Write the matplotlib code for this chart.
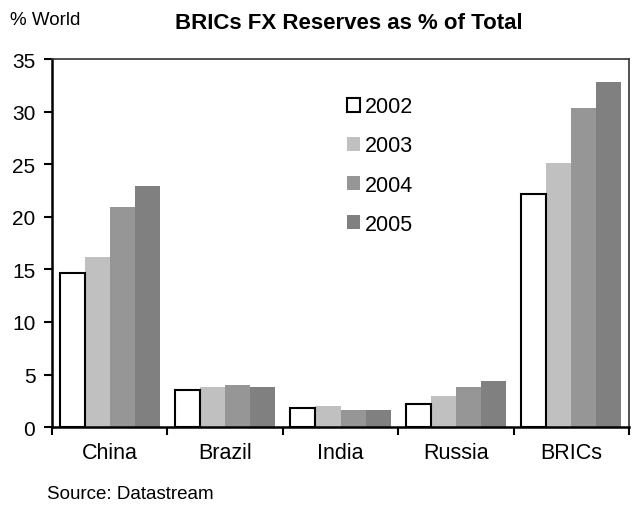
import matplotlib
matplotlib.use("Agg")
import matplotlib.pyplot as plt
import numpy as np

plt.rcParams['font.family'] = ['Liberation Sans', 'DejaVu Sans']

categories = ["China", "Brazil", "India", "Russia", "BRICs"]
years = ["2002", "2003", "2004", "2005"]
v2002 = [14.65, 3.5, 1.85, 2.2, 22.2]
v2003 = [16.2, 3.8, 2.0, 2.95, 25.1]
v2004 = [20.9, 4.0, 1.6, 3.8, 30.35]
v2005 = [22.9, 3.8, 1.6, 4.4, 32.8]
series = [v2002, v2003, v2004, v2005]
colors = ["white", "#C0C0C0", "#969696", "#808080"]
yticks = [0, 5, 10, 15, 20, 25, 30, 35]

fig = plt.figure(figsize=(6.4, 5.06), dpi=100)
ax = fig.add_axes([0.08125, 0.154, 0.9016, 0.727])

x = np.arange(len(categories))
w = 0.217
offsets = (np.arange(4) - 1.5) * w
for i, (vals, c) in enumerate(zip(series, colors)):
    if i == 0:
        ax.bar(x + offsets[i], vals, w, color=c, edgecolor="black", linewidth=1.5,
               label=years[i], zorder=3)
    else:
        ax.bar(x + offsets[i], vals, w, color=c, edgecolor="none", label=years[i], zorder=2)

ax.set_xlim(-0.5, len(categories) - 0.5)
ax.set_ylim(0, 35)
ax.set_yticks(yticks)
ax.set_yticklabels([str(t) for t in yticks], fontsize=15)
ax.set_xticks(np.arange(len(categories) + 1) - 0.5)
ax.set_xticklabels([])
ax.set_xticks(x, minor=True)
ax.set_xticklabels(categories, minor=True, fontsize=15.5)
ax.tick_params(axis='x', which='minor', length=0, pad=11)
ax.tick_params(axis='x', which='major', direction='out', length=6, width=1.5)
ax.tick_params(axis='y', direction='out', length=6, width=1.5, pad=6)

for s in ['left', 'bottom']:
    ax.spines[s].set_linewidth(1.8)
for s in ['top', 'right']:
    ax.spines[s].set_linewidth(1.2)
    ax.spines[s].set_color("#333333")

leg = ax.legend(loc='upper left', bbox_to_anchor=(0.511, 0.899), frameon=False,
                fontsize=15.5, handlelength=0.6, handleheight=0.6, handletextpad=0.25,
                labelspacing=0.84, borderpad=0, borderaxespad=0)

fig.text(0.015, 0.959, "% World", fontsize=13.5, ha='left', va='center')
fig.text(0.545, 0.954, "BRICs FX Reserves as % of Total", fontsize=16,
         fontweight='bold', ha='center', va='center')
fig.text(0.073, 0.022, "Source: Datastream", fontsize=13.5, ha='left', va='center')

fig.savefig("out.png", dpi=100)
